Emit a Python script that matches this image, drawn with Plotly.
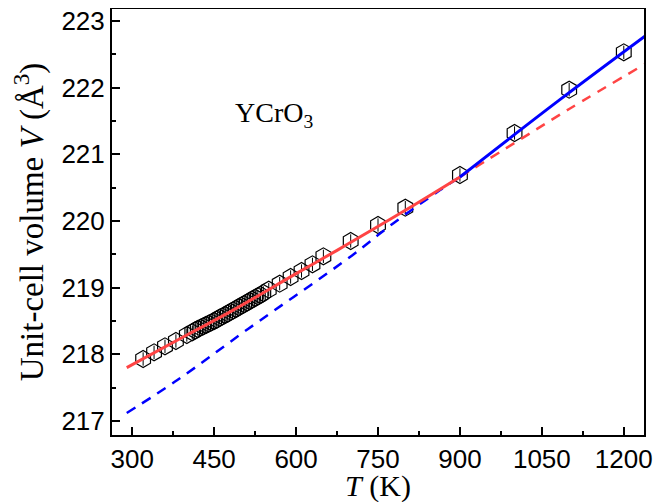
import plotly.graph_objects as go

# Measured data (T in K, V in Å^3)
T_data = [320, 340, 360, 380, 400, 410, 415, 420, 425, 430, 435, 440, 445, 450,
          455, 460, 465, 470, 475, 480, 485, 490, 495, 500, 505, 510, 515, 520,
          525, 530, 535, 540, 550, 570, 590, 610, 630, 650, 700, 750, 800, 900,
          1000, 1100, 1200]
V_data = [217.93, 218.03, 218.12, 218.20, 218.29, 218.33, 218.36, 218.38, 218.40,
          218.42, 218.44, 218.46, 218.48, 218.50, 218.52, 218.55, 218.57, 218.59,
          218.61, 218.64, 218.66, 218.68, 218.71, 218.73, 218.75, 218.78, 218.80,
          218.82, 218.85, 218.87, 218.89, 218.92, 218.97, 219.06, 219.16, 219.25,
          219.35, 219.47, 219.70, 219.94, 220.20, 220.69, 221.32, 221.97, 222.53]
V_err = [0.1] * len(T_data)

# Fit curves
red_solid_T = [290, 400, 480, 600, 675, 800, 900]
red_solid_V = [217.80, 218.29, 218.64, 219.21, 219.56, 220.16, 220.66]
red_dash_T = [900, 1000, 1100, 1240]
red_dash_V = [220.66, 221.17, 221.68, 222.36]
blue_dash_T = [290, 382, 512, 702, 777, 863, 900]
blue_dash_V = [217.12, 217.61, 218.38, 219.48, 219.96, 220.46, 220.66]
blue_solid_T = [900, 1083, 1240]
blue_solid_V = [220.66, 221.82, 222.78]

x_ticks = [300, 450, 600, 750, 900, 1050, 1200]
y_ticks = [217, 218, 219, 220, 221, 222, 223]

RED = "#FF4444"
BLUE = "#0000FF"
SERIF = "Liberation Serif, Times New Roman, serif"
SANS = "Liberation Sans, Arial, sans-serif"

fig = go.Figure()
fig.add_trace(go.Scatter(
    x=T_data, y=V_data, mode="markers",
    marker=dict(symbol="hexagon-open", size=17, color="black", line=dict(width=1.2, color="black")),
    error_y=dict(type="data", array=V_err, color="black", thickness=1, width=0),
    showlegend=False))
fig.add_trace(go.Scatter(x=blue_dash_T, y=blue_dash_V, mode="lines", line_shape="spline",
                         line=dict(color=BLUE, width=2.5, dash="10px,8px"), showlegend=False))
fig.add_trace(go.Scatter(x=red_dash_T, y=red_dash_V, mode="lines", line_shape="spline",
                         line=dict(color=RED, width=2.5, dash="10px,8px"), showlegend=False))
fig.add_trace(go.Scatter(x=red_solid_T, y=red_solid_V, mode="lines", line_shape="spline",
                         line=dict(color=RED, width=3), showlegend=False))
fig.add_trace(go.Scatter(x=blue_solid_T, y=blue_solid_V, mode="lines", line_shape="spline",
                         line=dict(color=BLUE, width=3), showlegend=False))

fig.add_annotation(x=560, y=221.6, xref="x", yref="y", text="YCrO<sub>3</sub>",
                   showarrow=False, xanchor="center", yanchor="middle",
                   font=dict(family=SERIF, size=28, color="black"))

axis_common = dict(
    showgrid=False, zeroline=False, showline=True, linecolor="black", linewidth=2,
    mirror=True, ticks="inside", ticklen=8, tickwidth=1.5, tickcolor="black",
    tickfont=dict(family=SANS, size=26, color="black"),
    ticklabeloverflow="allow", automargin=False,
)
fig.update_xaxes(**axis_common, range=[263, 1237], tickvals=x_ticks,
                 minor=dict(dtick=75, tick0=225, ticks="inside", ticklen=4, tickwidth=1.5, tickcolor="black"),
                 title=dict(text="<i>T</i> (K)", standoff=9,
                            font=dict(family=SERIF, size=30, color="black")))
fig.update_yaxes(**axis_common, range=[216.79, 223.18], tickvals=y_ticks,
                 minor=dict(dtick=0.5, tick0=216.5, ticks="inside", ticklen=4, tickwidth=1.5, tickcolor="black"),
                 title=dict(text="Unit-cell volume <i>V</i> (Å<sup>3</sup>)", standoff=8,
                            font=dict(family=SERIF, size=33, color="black")))

fig.update_layout(width=663, height=495, margin=dict(l=104, r=27, t=1, b=68),
                  plot_bgcolor="white", paper_bgcolor="white")
fig.write_html("out.html")
